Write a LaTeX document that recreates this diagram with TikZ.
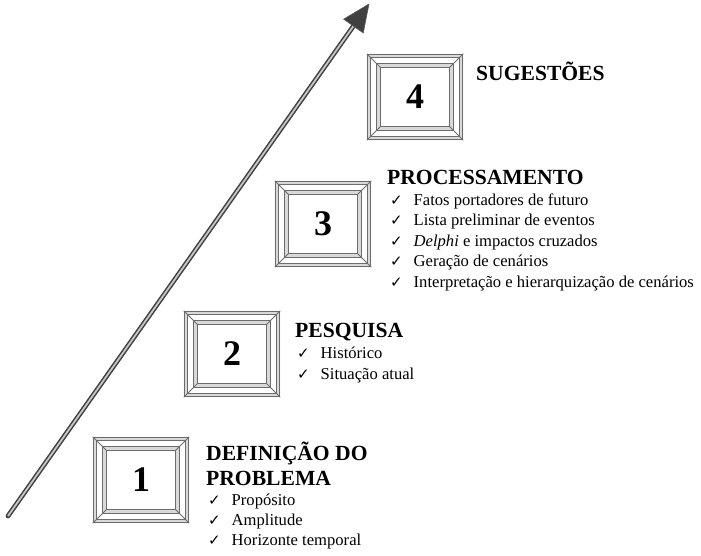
\documentclass[tikz,border=0pt]{standalone}
\usepackage{fontspec}
\setmainfont{Liberation Serif}
\newfontfamily\dvfont{DejaVu Sans}
\usetikzlibrary{calc}
\newcommand\chk{\makebox[23.5pt][l]{\dvfont\fontsize{15}{15}\selectfont ✓}}
\begin{document}
\begin{tikzpicture}[x=1pt,y=-1pt,
 hdr/.style={anchor=base west,inner sep=0,font=\fontsize{21.6}{21.6}\selectfont\bfseries},
 itm/.style={anchor=base west,inner sep=0,font=\fontsize{16.6}{16.6}\selectfont},
 boxnum/.style={minimum width=96pt,minimum height=86pt,inner sep=0,font=\fontsize{36}{36}\selectfont\bfseries},
 frl/.style={draw=gray!85!black,line width=0.9pt},
 band/.style={fill=gray!30,even odd rule},
]
\useasboundingbox (0,0) rectangle (701,556);

% arrow
\coordinate (as) at (8,516);
\coordinate (at) at (369,4);
\coordinate (ab) at ($(at)!27pt!(as)$);
\coordinate (ab2) at ($(at)!22pt!(as)$);
\coordinate (al) at ($(ab)!12pt!90:(at)$);
\coordinate (ar) at ($(ab)!12pt!-90:(at)$);
\draw[line width=4.8pt, gray!50!black, line cap=round] (as) -- (ab2);
\draw[line width=1.8pt, gray!45] (as) -- (ab2);
\filldraw[fill=black!75, draw=gray!70!black, line width=0.6pt, line join=miter] (at) -- (al) -- (ar) -- cycle;

% boxes
\node[boxnum] (b1) at (141,480) {1};
\node[boxnum] (b2) at (232,354) {2};
\node[boxnum] (b3) at (323,224) {3};
\node[boxnum] (b4) at (415,97) {4};
\foreach \n in {b1,b2,b3,b4}{
  \fill[band] (\n.north west) rectangle (\n.south east)
     ($(\n.north west)+(4,4)$) rectangle ($(\n.south east)+(-4,-4)$);
  \fill[band] ($(\n.north west)+(10,10)$) rectangle ($(\n.south east)+(-10,-10)$)
     ($(\n.north west)+(14,14)$) rectangle ($(\n.south east)+(-14,-14)$);
  \draw[frl] ($(\n.north west)+(0.5,0.5)$) rectangle ($(\n.south east)+(-0.5,-0.5)$);
  \draw[frl] ($(\n.north west)+(3.5,3.5)$) rectangle ($(\n.south east)+(-3.5,-3.5)$);
  \draw[frl] ($(\n.north west)+(10,10)$) rectangle ($(\n.south east)+(-10,-10)$);
  \draw[frl] ($(\n.north west)+(14,14)$) rectangle ($(\n.south east)+(-14,-14)$);
  \draw[frl] (\n.north west) -- ($(\n.north west)+(14,14)$);
  \draw[frl] (\n.north east) -- ($(\n.north east)+(-14,14)$);
  \draw[frl] (\n.south west) -- ($(\n.south west)+(14,-14)$);
  \draw[frl] (\n.south east) -- ($(\n.south east)+(-14,-14)$);
}

% texts block 4
\node[hdr] (h4) at (476,81) {SUGESTÕES};

% block 3
\node[hdr] (h3) at (387,185) {PROCESSAMENTO};
\node[itm] (i31) at (390,205) {\chk Fatos portadores de futuro};
\node[itm] (i32) at (390,225.5) {\chk Lista preliminar de eventos};
\node[itm] (i33) at (390,246) {\chk \textit{Delphi} e impactos cruzados};
\node[itm] (i34) at (390,266.5) {\chk Geração de cenários};
\node[itm] (i35) at (390,287) {\chk Interpretação e hierarquização de cenários};

% block 2
\node[hdr] (h2) at (295,337) {PESQUISA};
\node[itm] (i21) at (297,358) {\chk Histórico};
\node[itm] (i22) at (297,379) {\chk Situação atual};

% block 1
\node[hdr] (h1a) at (206,460) {DEFINIÇÃO DO};
\node[hdr] (h1b) at (206,485) {PROBLEMA};
\node[itm] (i11) at (208,505) {\chk Propósito};
\node[itm] (i12) at (208,525) {\chk Amplitude};
\node[itm] (i13) at (208,545) {\chk Horizonte temporal};
\end{tikzpicture}
\end{document}
